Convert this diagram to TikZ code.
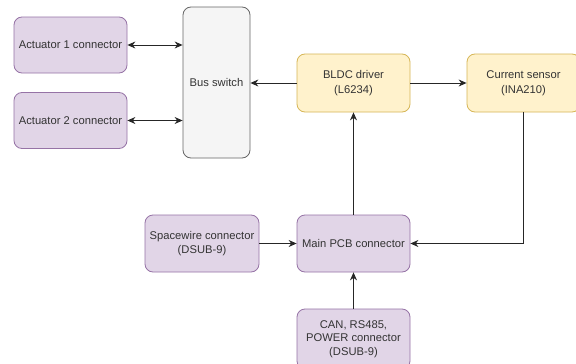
\documentclass[tikz,border=0pt]{standalone}
\usepackage{fontspec}
\setmainfont{Liberation Sans}
\usetikzlibrary{arrows.meta}
\begin{document}
\begin{tikzpicture}[x=1pt,y=-1pt,
  box/.style={draw, rounded corners=8pt, line width=0.8pt, align=center, inner sep=1pt, font=\fontsize{11.2}{13.5}\selectfont, text=black!80},
  purp/.style={box, fill={rgb,255:red,225;green,213;blue,231}, draw={rgb,255:red,150;green,115;blue,166}},
  yell/.style={box, fill={rgb,255:red,255;green,242;blue,204}, draw={rgb,255:red,214;green,182;blue,86}, font=\fontsize{11.2}{14.5}\selectfont},
  grey/.style={box, fill={rgb,255:red,245;green,245;blue,245}, draw={rgb,255:red,102;green,102;blue,102}, text={rgb,255:red,51;green,51;blue,51}},
  conn/.style={draw=black!85, line width=0.9pt, -{Stealth[length=8pt,width=7pt]}},
  bconn/.style={draw=black!85, line width=0.9pt, {Stealth[length=8pt,width=7pt]}-{Stealth[length=8pt,width=7pt]}}]
\clip (0,0) rectangle (576,364);
\fill[white] (0,0) rectangle (576,364);
\node[purp, minimum width=113pt, minimum height=56pt] (act1) at (70.5,45) {Actuator 1 connector};
\node[purp, minimum width=113pt, minimum height=56pt] (act2) at (70.5,120.5) {Actuator 2 connector};
\node[grey, minimum width=67pt, minimum height=151pt] (bus) at (216.5,82.5) {Bus switch};
\node[yell, minimum width=113pt, minimum height=58pt] (bldc) at (353.5,83) {BLDC driver\\(L6234)};
\node[yell, minimum width=113pt, minimum height=58pt] (cur) at (523.5,83) {Current sensor\\(INA210)};
\node[purp, minimum width=113pt, minimum height=57pt] (main) at (353.5,243.5) {Main PCB connector};
\node[purp, minimum width=114pt, minimum height=57pt] (space) at (202,243.5) {Spacewire connector\\(DSUB-9)};
\node[purp, minimum width=113pt, minimum height=60pt] (can) at (353.5,339) {CAN, RS485,\\POWER connector\\(DSUB-9)};
\draw[bconn] (act1.east) -- (act1.east -| bus.west);
\draw[bconn] (act2.east) -- (act2.east -| bus.west);
\draw[conn] (bldc.west) -- (bldc.west -| bus.east);
\draw[conn] (bldc.east) -- (cur.west);
\draw[conn] (main.north) -- (bldc.south);
\draw[conn] (space.east) -- (main.west);
\draw[conn] (can.north) -- (main.south);
\draw[conn] (cur.south) |- (main.east);
\end{tikzpicture}
\end{document}
